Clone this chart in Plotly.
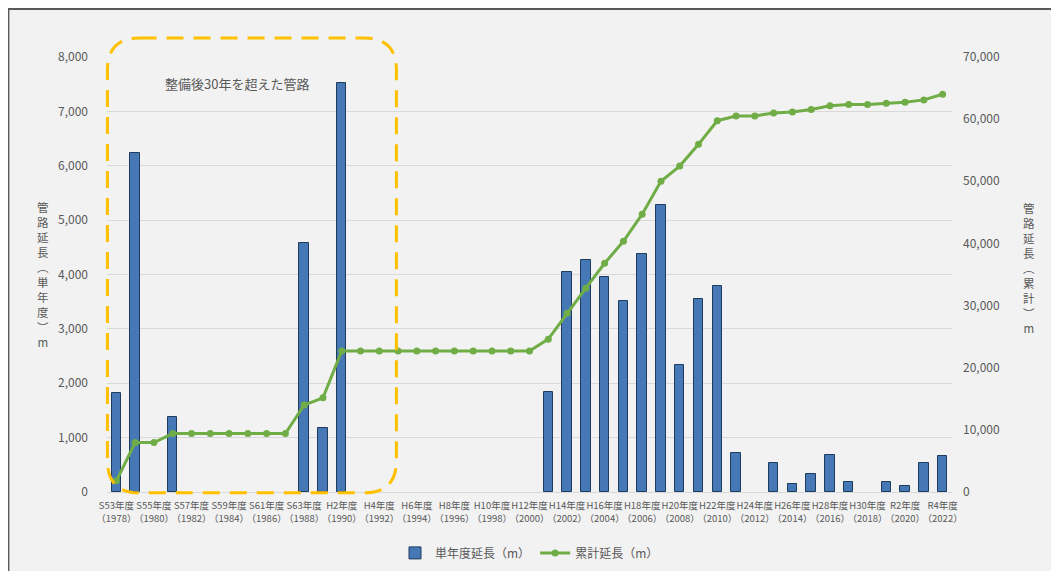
import plotly.graph_objects as go

years = list(range(1978, 2023))

# 単年度延長 (m) — None where no pipe was laid
single_length = [1815, 6230, None, 1375, None, None, None, None, None, None,
                 4580, 1185, 7520, None, None, None, None, None, None, None,
                 None, None, None, 1845, 4050, 4270, 3950, 3515, 4385, 5280,
                 2340, 3545, 3790, 725, None, 540, 140, 325, 680, 180,
                 None, 185, 110, 540, 660]

# 累計延長 (m)
cumulative_length = [1800, 7950, 7950, 9400, 9400, 9400, 9400, 9400, 9400, 9400,
                     14000, 15150, 22700, 22700, 22700, 22700, 22700, 22700, 22700, 22700,
                     22700, 22700, 22700, 24600, 28750, 32800, 36800, 40350, 44700, 50000,
                     52450, 55950, 59750, 60500, 60500, 61000, 61150, 61550, 62150, 62350,
                     62350, 62550, 62700, 63100, 64000]

tick_years = list(range(1978, 2023, 2))
tick_labels = ["S53年度<br>（1978）", "S55年度<br>（1980）", "S57年度<br>（1982）",
               "S59年度<br>（1984）", "S61年度<br>（1986）", "S63年度<br>（1988）",
               "H2年度<br>（1990）", "H4年度<br>（1992）", "H6年度<br>（1994）",
               "H8年度<br>（1996）", "H10年度<br>（1998）", "H12年度<br>（2000）",
               "H14年度<br>（2002）", "H16年度<br>（2004）", "H18年度<br>（2006）",
               "H20年度<br>（2008）", "H22年度<br>（2010）", "H24年度<br>（2012）",
               "H26年度<br>（2014）", "H28年度<br>（2016）", "H30年度<br>（2018）",
               "R2年度<br>（2020）", "R4年度<br>（2022）"]

FONT = "Noto Sans CJK JP, Noto Sans, sans-serif"
GRAY = "#595959"

fig = go.Figure()
fig.add_trace(go.Bar(
    x=years, y=single_length, name="単年度延長（m）", width=0.5,
    marker=dict(color="#4678b6", line=dict(color="#1f3b5e", width=1)),
))
fig.add_trace(go.Scatter(
    x=years, y=cumulative_length, name="累計延長（m）", yaxis="y2",
    mode="lines+markers",
    line=dict(color="#70ad47", width=3),
    marker=dict(color="#70ad47", size=7),
))

# Rounded dashed rectangle (paper coordinates)
x0, x1 = 0.0005, 0.3425
y0, y1 = -0.002, 1.0437
rx, ry = 0.038, 0.074
path = (f"M {x0+rx},{y1} L {x1-rx},{y1} Q {x1},{y1} {x1},{y1-ry} "
        f"L {x1},{y0+ry} Q {x1},{y0} {x1-rx},{y0} "
        f"L {x0+rx},{y0} Q {x0},{y0} {x0},{y0+ry} "
        f"L {x0},{y1-ry} Q {x0},{y1} {x0+rx},{y1} Z")

fig.update_layout(
    width=1051, height=563,
    margin=dict(l=99, r=107, t=49, b=79, autoexpand=False),
    paper_bgcolor="white",
    plot_bgcolor="rgba(0,0,0,0)",
    font=dict(family=FONT, color=GRAY, size=12),
    showlegend=True,
    legend=dict(orientation="h", x=0.5, xanchor="center", y=-0.14, yanchor="middle",
                font=dict(size=12, color=GRAY), bgcolor="rgba(0,0,0,0)"),
    bargap=0,
    xaxis=dict(range=[1977.5, 2022.5], tickmode="array", tickvals=tick_years,
               ticktext=tick_labels, tickangle=0, tickfont=dict(size=9.5, color=GRAY),
               showgrid=False, showline=True, linecolor="#d9d9d9", zeroline=False,
               ticks="", ticklabelstandoff=5, automargin=False),
    yaxis=dict(range=[0, 8000], dtick=1000, tickformat=",", showgrid=True,
               gridcolor="#d9d9d9", zeroline=False, ticks="", ticklabelstandoff=18,
               tickfont=dict(size=12, color=GRAY), automargin=False),
    yaxis2=dict(range=[0, 70000], dtick=10000, tickformat=",", overlaying="y",
                side="right", showgrid=False, zeroline=False, ticks="",
                ticklabelstandoff=10, tickfont=dict(size=12, color=GRAY), automargin=False),
    shapes=[
        dict(type="rect", xref="paper", yref="paper",
             x0=-0.1167, x1=1.14, y0=-0.21, y1=1.1103,
             fillcolor="#f2f2f2", line=dict(color="#595959", width=2), layer="below"),
        dict(type="path", xref="paper", yref="paper", path=path,
             line=dict(color="#ffc000", width=3, dash="17px,10px"), layer="above"),
    ],
    annotations=[
        dict(text="整備後30年を超えた管路", xref="paper", yref="paper", x=0.1544, y=0.938,
             xanchor="center", yanchor="middle",
             showarrow=False, font=dict(size=13, color=GRAY)),
        dict(text="管<br>路<br>延<br>長<br>︵<br>単<br>年<br>度<br>︶<br>m",
             xref="paper", yref="paper", x=-0.0753, y=0.5, showarrow=False,
             xanchor="center", yanchor="middle", font=dict(size=11.5, color=GRAY)),
        dict(text="管<br>路<br>延<br>長<br>︵<br>累<br>計<br>︶<br>m",
             xref="paper", yref="paper", x=1.0907, y=0.515, showarrow=False,
             xanchor="center", yanchor="middle", font=dict(size=11.5, color=GRAY)),
    ],
)

fig.write_html("out.html")
